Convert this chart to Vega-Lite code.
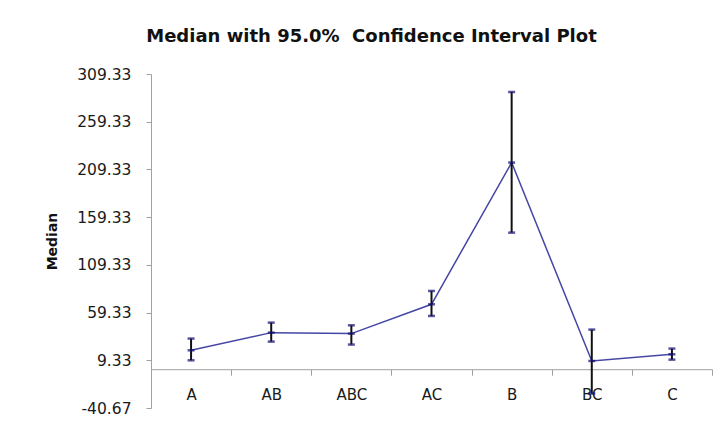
{
  "$schema": "https://vega.github.io/schema/vega-lite/v6.json",
  "autosize": "none",
  "width": 561,
  "height": 334,
  "padding": {"left": 151, "top": 74, "right": 14, "bottom": 20},
  "background": "white",
  "title": {
    "text": "Median with 95.0%\u00a0 Confidence Interval Plot",
    "font": "DejaVu Sans",
    "fontSize": 18,
    "fontWeight": "bold",
    "color": "#111111",
    "anchor": "middle",
    "dx": -60,
    "offset": 21
  },
  "data": {
    "values": [
      {"group": "A", "median": 19.8, "lo": 9.3, "hi": 32.1},
      {"group": "AB", "median": 38.3, "lo": 28.9, "hi": 48.8},
      {"group": "ABC", "median": 37.3, "lo": 25.8, "hi": 46.0},
      {"group": "AC", "median": 68.0, "lo": 55.8, "hi": 82.0},
      {"group": "B", "median": 216.5, "lo": 143.1, "hi": 290.5},
      {"group": "BC", "median": 8.6, "lo": -25.6, "hi": 41.5},
      {"group": "C", "median": 15.6, "lo": 10.0, "hi": 21.6}
    ]
  },
  "encoding": {
    "x": {
      "field": "group",
      "type": "nominal",
      "sort": null,
      "scale": {"paddingInner": 0, "paddingOuter": 0},
      "axis": {
        "title": null,
        "labelAngle": 0,
        "offset": -38.8,
        "tickBand": "extent",
        "domainColor": "#a0a0a0",
        "tickColor": "#a0a0a0",
        "tickSize": 6,
        "labelPadding": 12,
        "labelFont": "DejaVu Sans",
        "labelFontSize": 15,
        "labelColor": "#1a1a1a"
      }
    }
  },
  "layer": [
    {
      "mark": {"type": "line", "color": "#4646a6", "strokeWidth": 1.5},
      "encoding": {
        "y": {
          "field": "median",
          "type": "quantitative",
          "scale": {"domain": [-40.67, 309.33], "nice": false, "zero": false},
          "axis": {
            "title": "Median",
            "titleFont": "DejaVu Sans",
            "titleFontSize": 14,
            "titleFontWeight": "bold",
            "titleColor": "#111111",
            "titlePadding": 17,
            "values": [-40.67, 9.33, 59.33, 109.33, 159.33, 209.33, 259.33, 309.33],
            "format": ".2f",
            "labelExpr": "replace(datum.label, '\u2212', '-')",
            "grid": false,
            "domainColor": "#a0a0a0",
            "tickColor": "#a0a0a0",
            "tickSize": 5,
            "labelPadding": 15,
            "labelFont": "DejaVu Sans",
            "labelFontSize": 15.5,
            "labelColor": "#1a1a1a"
          }
        }
      }
    },
    {
      "mark": {"type": "rule", "color": "#111111", "strokeWidth": 2},
      "encoding": {
        "y": {"field": "lo", "type": "quantitative"},
        "y2": {"field": "hi"}
      }
    },
    {
      "mark": {"type": "tick", "color": "#10106e", "size": 7, "thickness": 2.5},
      "encoding": {"y": {"field": "lo", "type": "quantitative"}}
    },
    {
      "mark": {"type": "tick", "color": "#10106e", "size": 7, "thickness": 2.5},
      "encoding": {"y": {"field": "hi", "type": "quantitative"}}
    },
    {
      "mark": {"type": "tick", "color": "#10106e", "size": 7, "thickness": 2.5},
      "encoding": {"y": {"field": "median", "type": "quantitative"}}
    }
  ],
  "config": {
    "view": {"stroke": null}
  }
}
